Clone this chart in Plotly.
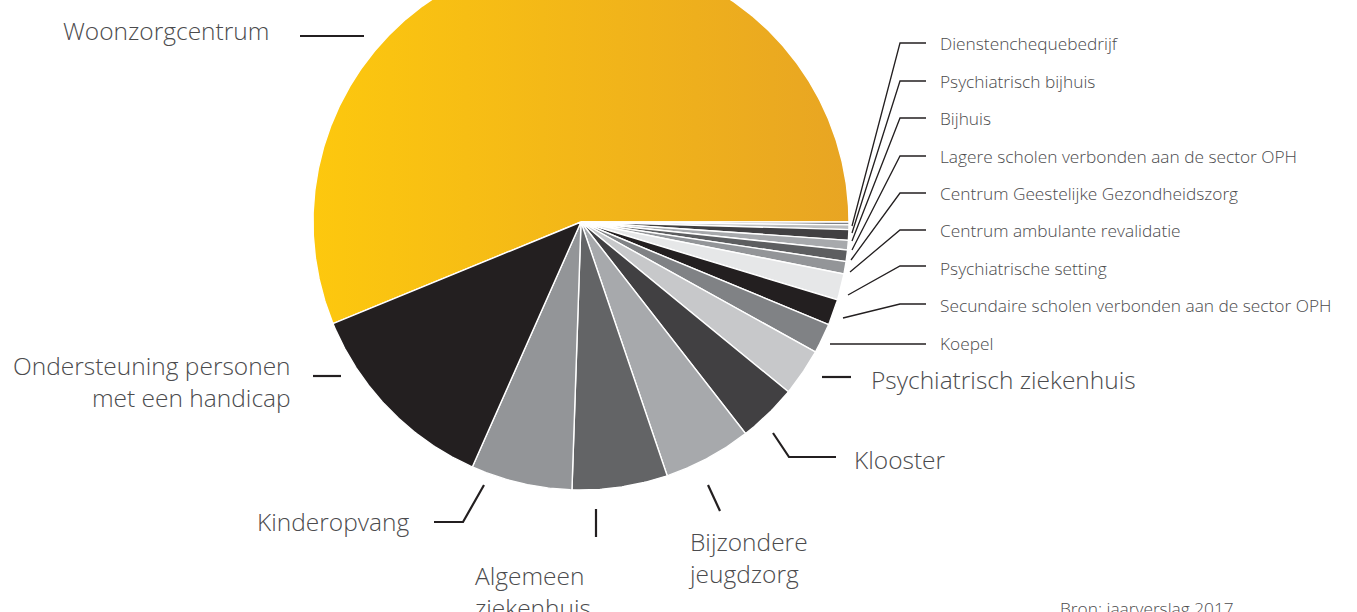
import math
import plotly.graph_objects as go

# ---------------- data ----------------
categories = [
    "Dienstenchequebedrijf",
    "Psychiatrisch bijhuis",
    "Bijhuis",
    "Lagere scholen verbonden aan de sector OPH",
    "Centrum Geestelijke Gezondheidszorg",
    "Centrum ambulante revalidatie",
    "Psychiatrische setting",
    "Secundaire scholen verbonden aan de sector OPH",
    "Koepel",
    "Psychiatrisch ziekenhuis",
    "Klooster",
    "Bijzondere jeugdzorg",
    "Algemeen ziekenhuis",
    "Kinderopvang",
    "Ondersteuning personen met een handicap",
    "Woonzorgcentrum",
]
values = [0.17, 0.28, 0.64, 0.58, 0.69, 0.75, 1.58, 1.56, 1.81,
          2.86, 3.56, 5.31, 5.75, 6.11, 12.17, 56.19]
colors = ["#808285", "#bcbec0", "#414042", "#a7a9ac", "#5d5e60", "#939598",
          "#e6e7e8", "#231f20", "#808285", "#c7c8ca", "#414042", "#a7a9ac",
          "#636466", "#939598", "#231f20", "#f6bc17"]
label_texts = [
    "Dienstenchequebedrijf",
    "Psychiatrisch bijhuis",
    "Bijhuis",
    "Lagere scholen verbonden aan de sector OPH",
    "Centrum Geestelijke Gezondheidszorg",
    "Centrum ambulante revalidatie",
    "Psychiatrische setting",
    "Secundaire scholen verbonden aan de sector OPH",
    "Koepel",
    "Psychiatrisch ziekenhuis",
    "Klooster",
    "Bijzondere<br>jeugdzorg",
    "Algemeen<br>ziekenhuis",
    "Kinderopvang",
    "Ondersteuning personen<br>met een handicap",
    "Woonzorgcentrum",
]
source_text = "Bron: jaarverslag 2017"

# ---------------- layout constants (pixels) ----------------
W, H = 1357, 612
CX, CY, R = 581, 222, 268
FONT = "Open Sans"
TXT = "#4b4b4d"
LINE = "#231f20"
SMALL, BIG = 17.3, 24.5

# label placement: (x, y, xanchor, size)
label_pos = [
    (938, 43, "left", SMALL), (938, 81, "left", SMALL), (938, 118, "left", SMALL),
    (938, 156, "left", SMALL), (938, 193, "left", SMALL), (938, 230, "left", SMALL),
    (938, 268, "left", SMALL), (938, 305, "left", SMALL), (938, 343, "left", SMALL),
    (869, 379, "left", BIG), (852, 459, "left", BIG), (686, 557, "left", BIG),
    (473, 591, "left", BIG), (411, 521, "right", BIG), (293, 381, "right", BIG),
    (271, 30, "right", BIG),
]
# leader line polylines and widths
leaders = [
    ([(852, 226), (900, 43), (926, 43)], 1.3),
    ([(852, 233), (900, 81), (926, 81)], 1.3),
    ([(852, 241), (900, 118), (926, 118)], 1.3),
    ([(852, 250), (900, 156), (926, 156)], 1.3),
    ([(851, 260), (900, 193), (926, 193)], 1.3),
    ([(850, 272), (900, 230), (926, 230)], 1.3),
    ([(848, 295), (900, 266), (926, 266)], 1.3),
    ([(843, 318), (900, 304), (926, 304)], 1.3),
    ([(830, 344), (926, 344)], 1.3),
    ([(822, 377), (851, 377)], 2.2),
    ([(773, 433), (789, 457), (836, 457)], 2.2),
    ([(708, 485), (720, 511)], 2.2),
    ([(596, 509), (596, 537)], 2.2),
    ([(484, 485), (463, 522), (434, 522)], 2.2),
    ([(313, 376), (341, 376)], 2.2),
    ([(300, 36), (364, 36)], 2.2),
]

fig = go.Figure()

total = sum(values)
starts = []
acc = 0.0
for v in values:
    starts.append(acc)
    acc += v

order = [len(values) - 1] + list(range(len(values) - 1))  # big slice first
for i in order:
    a0 = starts[i] / total * 360.0
    a1 = (starts[i] + values[i]) / total * 360.0
    n = max(2, int((a1 - a0) / 0.4) + 1)
    xs, ys = [CX], [CY]
    for k in range(n + 1):
        t = math.radians(a0 + (a1 - a0) * k / n)
        xs.append(CX + R * math.cos(t))
        ys.append(CY + R * math.sin(t))
    xs.append(CX)
    ys.append(CY)
    kw = dict(fillcolor=colors[i])
    if i == len(values) - 1:
        kw["fillgradient"] = dict(type="horizontal",
                                  colorscale=[[0, "#fdc80e"], [1, "#e8a523"]])
    fig.add_trace(go.Scatter(
        x=xs, y=ys, mode="lines", fill="toself",
        line=dict(color="white", width=1.4),
        name=categories[i], hoverinfo="name", showlegend=False, **kw))

for (pts, w) in leaders:
    path = "M " + " L ".join(f"{x},{y}" for x, y in pts)
    fig.add_shape(type="path", path=path, xref="x", yref="y",
                  line=dict(color=LINE, width=w))

for txt, (x, y, xa, sz) in zip(label_texts, label_pos):
    fig.add_annotation(x=x, y=y, xref="x", yref="y", text=txt, showarrow=False,
                       xanchor=xa, yanchor="middle",
                       align="right" if xa == "right" else "left",
                       font=dict(family=FONT, size=sz, color=TXT, weight=300))

fig.add_annotation(x=1058, y=608, xref="x", yref="y", text=source_text,
                   showarrow=False, xanchor="left", yanchor="middle",
                   font=dict(family=FONT, size=SMALL, color=TXT, weight=300))

fig.update_layout(
    width=W, height=H,
    margin=dict(l=0, r=0, t=0, b=0),
    paper_bgcolor="white", plot_bgcolor="white",
    xaxis=dict(range=[0, W], visible=False, fixedrange=True),
    yaxis=dict(range=[H, 0], visible=False, fixedrange=True),
    showlegend=False,
)

fig.write_html("out.html", config={"displayModeBar": False},
               post_script="document.body.style.margin='0';")
